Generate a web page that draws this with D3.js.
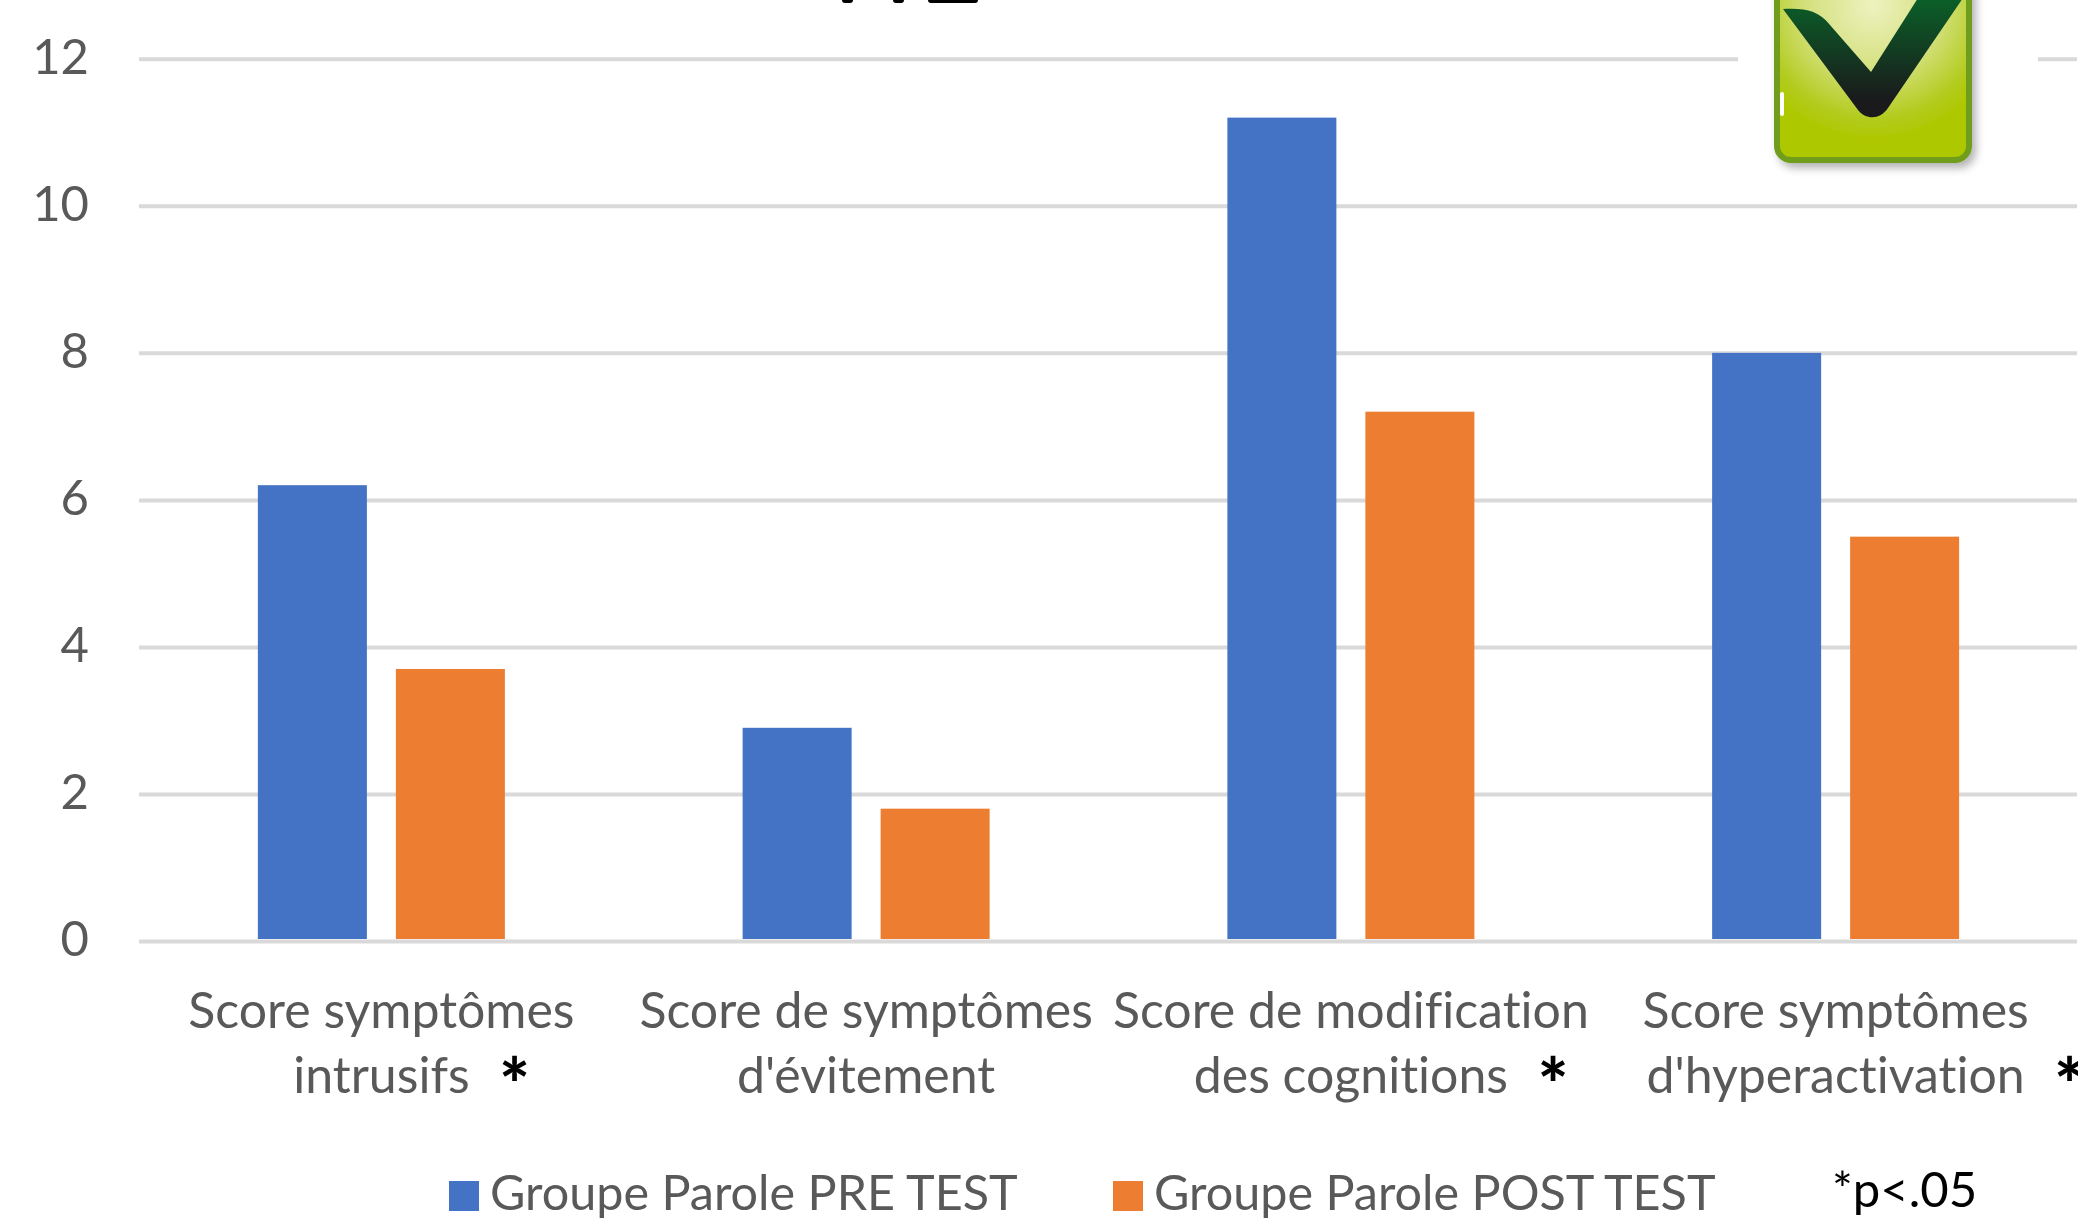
<!DOCTYPE html>
<meta charset="utf-8">
<style>
body { margin: 0; background: #fff; }
svg { display: block; }
text { font-family: Lato, "Open Sans", sans-serif; fill: #595959; font-variant-ligatures: none; }
.grid line { stroke: #d9d9d9; stroke-width: 4; }
.grid path, .xaxis path, .xaxis line { display: none; }
.tick text { font-size: 49px; }
.legend text { font-size: 48.5px; }
</style>
<svg class="chart" width="2078" height="1230"></svg>
<script src="https://d3js.org/d3.v7.min.js"></script>
<script>

var categories = ["a", "b", "c", "d"];
var line1 = ["Score symptômes", "Score de symptômes", "Score de modification", "Score symptômes"];
var line2 = ["intrusifs", "d'évitement", "des cognitions", "d'hyperactivation"];
var starred = [true, false, true, true];
var preTest = [6.2, 2.9, 11.2, 8];
var postTest = [3.7, 1.8, 7.2, 5.5];
var yTicks = [0, 2, 4, 6, 8, 10, 12];
var seriesNames = ["Groupe Parole PRE TEST", "Groupe Parole POST TEST"];
var seriesColors = ["#4472c4", "#ed7d31"];

var svg = d3.select(".chart");
var defs = svg.append("defs");

var x = d3.scaleBand().domain(categories).range([139, 2078]);
var y = d3.scaleLinear().domain([0, 12]).range([941, 58.8]);

// y axis, the ticks double as the gridlines
svg.append("g")
    .attr("class", "grid")
    .attr("transform", "translate(139,0)")
    .call(d3.axisLeft(y).tickValues(yTicks).tickSize(-1938).tickPadding(50))
    .selectAll("text").attr("dy", ".3em");

// the bars stop on top of the baseline
var barBottom = y(0) - 2;
var barW = 109, barGap = 29;

var series = [preTest, postTest];
series.forEach(function (values, s) {
  svg.append("g").selectAll("rect")
      .data(values)
    .enter().append("rect")
      .attr("x", function (d, i) { return x(categories[i]) + x.bandwidth() / 2 - barW - barGap / 2 + s * (barW + barGap); })
      .attr("y", function (d) { return y(d); })
      .attr("width", barW)
      .attr("height", function (d) { return barBottom - y(d); })
      .attr("fill", seriesColors[s]);
});

// category labels on two lines, star after the second one
var labels = svg.append("g").attr("class", "xaxis").selectAll("g")
    .data(categories)
  .enter().append("g")
    .attr("transform", function (d) { return "translate(" + (x(d) + x.bandwidth() / 2) + ",0)"; });

labels.append("text")
    .attr("y", 1028)
    .attr("text-anchor", "middle")
    .style("font-size", "50px")
    .text(function (d, i) { return line1[i]; });

var second = labels.append("text")
    .attr("y", 1093)
    .attr("text-anchor", "middle")
    .style("font-size", "50px")
    .text(function (d, i) { return line2[i]; });

second.each(function (d, i) {
  if (!starred[i]) return;
  var w = this.getComputedTextLength();
  d3.select(this.parentNode).append("text")
      .attr("x", w / 2 + 45)
      .attr("y", 1111)
      .attr("text-anchor", "middle")
      .style("font-size", "72px")
      .style("font-weight", "900")
      .style("fill", "#000")
      .text("*");
});

// legend
var legendX = [449, 1113];
var legend = svg.append("g").attr("class", "legend").selectAll("g")
    .data(seriesNames)
  .enter().append("g")
    .attr("transform", function (d, i) { return "translate(" + legendX[i] + ",0)"; });

legend.append("rect")
    .attr("y", 1181)
    .attr("width", 30)
    .attr("height", 30)
    .attr("fill", function (d, i) { return seriesColors[i]; });

legend.append("text")
    .attr("x", 41)
    .attr("y", 1210)
    .text(function (d) { return d; });

svg.append("text")
    .attr("x", 1832)
    .attr("y", 1207)
    .style("font-size", "49px")
    .style("fill", "#000")
    .text("*p<.05");

// cut off title at the top edge
var titleBits = [[842, 11], [893, 11], [928, 50]];
svg.append("g").selectAll("rect")
    .data(titleBits)
  .enter().append("rect")
    .attr("x", function (d) { return d[0]; })
    .attr("y", -6)
    .attr("width", function (d) { return d[1]; })
    .attr("height", 9)
    .attr("rx", 3)
    .attr("fill", "#000");

// pasted check box picture, sits on a white patch that hides the gridline
var boxFill = defs.append("radialGradient").attr("id", "boxFill").attr("gradientUnits", "userSpaceOnUse")
    .attr("cx", 1873).attr("cy", 5).attr("r", 135);
boxFill.append("stop").attr("offset", "0").attr("stop-color", "#eef2c0");
boxFill.append("stop").attr("offset", "0.5").attr("stop-color", "#d3e07c");
boxFill.append("stop").attr("offset", "0.85").attr("stop-color", "#b2cb1c");
boxFill.append("stop").attr("offset", "1").attr("stop-color", "#aec800");

var checkFill = defs.append("linearGradient").attr("id", "checkFill").attr("gradientUnits", "userSpaceOnUse")
    .attr("x1", 0).attr("y1", 0).attr("x2", 0).attr("y2", 100);
checkFill.append("stop").attr("offset", "0").attr("stop-color", "#0b5f28");
checkFill.append("stop").attr("offset", "1").attr("stop-color", "#1a1a1c");

var shadow = defs.append("filter").attr("id", "boxShadow").attr("x", "-10%").attr("y", "-10%").attr("width", "120%").attr("height", "125%");
shadow.append("feDropShadow").attr("dx", 4).attr("dy", 5).attr("stdDeviation", 4).attr("flood-color", "#000").attr("flood-opacity", 0.3);

var box = svg.append("g");
box.append("rect").attr("x", 1738).attr("y", 0).attr("width", 300).attr("height", 178).attr("fill", "#fff");
box.append("rect")
    .attr("x", 1777).attr("y", -60).attr("width", 192).attr("height", 220).attr("rx", 14)
    .attr("fill", "url(#boxFill)")
    .attr("stroke", "#6f9e1f")
    .attr("stroke-width", 6)
    .attr("filter", "url(#boxShadow)");
box.append("path")
    .attr("d", "M1783,9 C1805,8 1818,10 1830,25 L1871,72 L1918,-2 L1963,-2 L1888,108 C1880,120 1866,120 1858,110 Z")
    .attr("fill", "url(#checkFill)");
box.append("rect").attr("x", 1780).attr("y", 92).attr("width", 4).attr("height", 24).attr("rx", 2).attr("fill", "#fff");

</script>
